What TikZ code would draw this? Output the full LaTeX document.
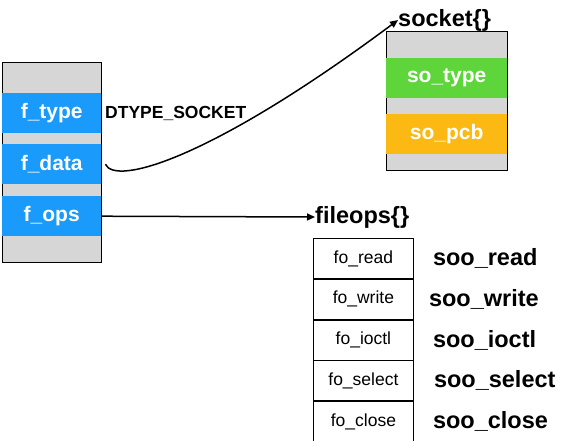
\documentclass[tikz,border=0pt]{standalone}
\usepackage{fontspec}
\setmainfont{Liberation Sans}
\usetikzlibrary{arrows.meta,positioning,calc}
\definecolor{structgray}{HTML}{D6D6D6}
\definecolor{fieldblue}{HTML}{1A9BFC}
\definecolor{fieldgreen}{HTML}{5ED63B}
\definecolor{fieldorange}{HTML}{FCB913}

\begin{document}
\begin{tikzpicture}[
  x=1pt, y=-1pt,
  >={Triangle[length=8pt,width=7pt]},
  structbox/.style={
    draw=black,
    fill=structgray,
    line width=1pt,
    inner sep=0pt,
    anchor=north west
  },
  fieldbar/.style={
    fill=#1,
    text=white,
    inner sep=0pt,
    minimum height=40pt,
    anchor=north west,
    font=\fontsize{21}{25}\selectfont\bfseries
  },
  typelabel/.style={
    inner sep=0pt,
    anchor=west,
    font=\fontsize{23.5}{27}\selectfont\bfseries
  },
  opsrow/.style={
    draw=black,
    line width=0.8pt,
    inner sep=0pt,
    minimum width=100pt,
    minimum height=40pt,
    font=\fontsize{17.5}{21}\selectfont
  },
  opsimpl/.style={
    inner sep=0pt,
    anchor=west,
    font=\fontsize{23.5}{27}\selectfont\bfseries
  },
  linkarrow/.style={
    ->,
    line width=1.5pt,
    draw=black
  }
]
  \useasboundingbox (0,0) rectangle (561,440);

  % ----------------------------------------------------
  % FILE STRUCTURE (left)
  % ----------------------------------------------------
  \node[structbox, minimum width=99pt, minimum height=200pt] (file) at (2,62) {};
  \node[fieldbar=fieldblue, minimum width=99pt] (ftype) at (2,93) {f\_type};
  \node[fieldbar=fieldblue, minimum width=99pt] (fdata) at (2,144) {f\_data};
  \node[fieldbar=fieldblue, minimum width=99pt] (fops) at (2,196) {f\_ops};

  \node[inner sep=0pt, anchor=west, font=\fontsize{17.5}{21}\selectfont\bfseries]
    (dtype) at (105,113) {DTYPE\_SOCKET};

  % ----------------------------------------------------
  % SOCKET STRUCTURE (top right)
  % ----------------------------------------------------
  \node[typelabel] (socketlbl) at (398,20) {socket\{\}};
  \node[structbox, minimum width=121pt, minimum height=139pt] (socket) at (386,31) {};
  \node[fieldbar=fieldgreen, minimum width=121pt] (sotype) at (386,58) {so\_type};
  \node[fieldbar=fieldorange, minimum width=121pt] (sopcb) at (386,114) {so\_pcb};

  % f_data points to the socket
  \draw[linkarrow] ($(fdata.east)+(4,0)$) .. controls (115,186) and (210,160) .. (socketlbl.west);

  % ----------------------------------------------------
  % FILEOPS TABLE (bottom right)
  % ----------------------------------------------------
  \node[typelabel] (fileopslbl) at (315,217) {fileops\{\}};
  \draw[linkarrow] (fops.east) -- (fileopslbl.west);

  \node[opsrow, anchor=north west] (foread) at (313,238) {fo\_read};
  \node[opsrow, below=0pt of foread] (fowrite) {fo\_write};
  \node[opsrow, below=0pt of fowrite] (foioctl) {fo\_ioctl};
  \node[opsrow, below=0pt of foioctl] (foselect) {fo\_select};
  \node[opsrow, below=0pt of foselect] (foclose) {fo\_close};

  % implementations of the socket file ops
  \node[opsimpl, right=19pt of foread] (sooread) {soo\_read};
  \node[opsimpl, right=15pt of fowrite] (soowrite) {soo\_write};
  \node[opsimpl, right=19pt of foioctl] (sooioctl) {soo\_ioctl};
  \node[opsimpl, right=20pt of foselect] (sooselect) {soo\_select};
  \node[opsimpl, right=19pt of foclose] (sooclose) {soo\_close};

\end{tikzpicture}
\end{document}
